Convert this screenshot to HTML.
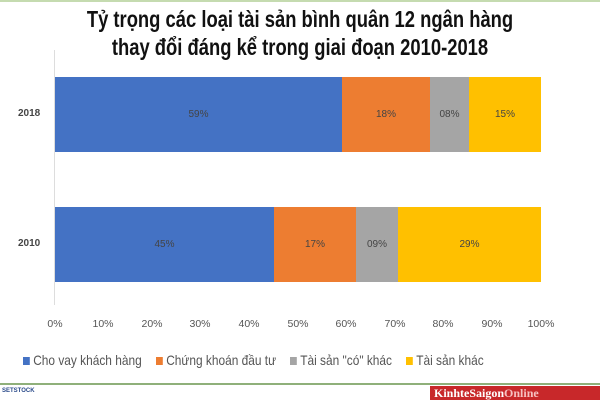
<!DOCTYPE html>
<html><head><meta charset="utf-8"><style>
body{margin:0;width:600px;height:400px;background:#fff;position:relative;overflow:hidden;font-family:"Liberation Sans",sans-serif}
.t{position:absolute;left:0;width:600px;text-align:center;font-weight:bold;font-size:23px;color:#111;transform:scaleX(0.8);transform-origin:300px 0;white-space:nowrap}
.b{position:absolute;height:75px;color:#444;font-size:10px;display:flex;align-items:center;justify-content:center}
.tk{position:absolute;top:318px;font-size:10.5px;color:#555;width:40px;text-align:center}
.y{position:absolute;left:18px;font-size:10px;font-weight:bold;color:#444}
.lg{position:absolute;top:352px;font-size:14px;color:#555;white-space:nowrap;transform:scaleX(0.85);transform-origin:0 0}
.lg i{display:inline-block;width:8px;height:8px;margin-right:4px}
</style></head><body>
<div style="position:absolute;left:0;top:0;width:600px;height:2px;background:#c5dbb0"></div>
<div class="t" style="top:6px">Tỷ trọng các loại tài sản bình quân 12 ngân hàng</div>
<div class="t" style="top:34px">thay đổi đáng kể trong giai đoạn 2010-2018</div>
<div style="position:absolute;left:54px;top:50px;width:1px;height:255px;background:#ddd"></div>
<div class="y" style="top:108px">2018</div>
<div class="y" style="top:238px">2010</div>
<div class="b" style="top:77px;left:55px;width:287px;background:#4472c4">59%</div>
<div class="b" style="top:77px;left:342px;width:88px;background:#ed7d31">18%</div>
<div class="b" style="top:77px;left:430px;width:39px;background:#a5a5a5">08%</div>
<div class="b" style="top:77px;left:469px;width:72px;background:#ffc000">15%</div>
<div class="b" style="top:207px;left:55px;width:219px;background:#4472c4">45%</div>
<div class="b" style="top:207px;left:274px;width:82px;background:#ed7d31">17%</div>
<div class="b" style="top:207px;left:356px;width:42px;background:#a5a5a5">09%</div>
<div class="b" style="top:207px;left:398px;width:143px;background:#ffc000">29%</div>
<div class="tk" style="left:35px">0%</div><div class="tk" style="left:83px">10%</div><div class="tk" style="left:132px">20%</div><div class="tk" style="left:180px">30%</div><div class="tk" style="left:229px">40%</div><div class="tk" style="left:278px">50%</div><div class="tk" style="left:326px">60%</div><div class="tk" style="left:375px">70%</div><div class="tk" style="left:423px">80%</div><div class="tk" style="left:472px">90%</div><div class="tk" style="left:521px">100%</div>
<div class="lg" style="left:23px"><i style="background:#4472c4"></i>Cho vay khách hàng</div>
<div class="lg" style="left:156px"><i style="background:#ed7d31"></i>Chứng khoán đầu tư</div>
<div class="lg" style="left:290px"><i style="background:#a5a5a5"></i>Tài sản "có" khác</div>
<div class="lg" style="left:406px"><i style="background:#ffc000"></i>Tài sản khác</div>
<div style="position:absolute;left:0;top:383px;width:600px;height:2px;background:#8fb07a"></div>
<div style="position:absolute;left:2px;top:388px;font-size:6px;color:#2a4a8a;font-weight:bold">SETSTOCK</div>
<div style="position:absolute;left:430px;top:386px;width:170px;height:14px;background:#c8282a;color:#fff;font-family:'Liberation Serif',serif;font-weight:bold;font-size:12px;line-height:14px;padding-left:4px">KinhteSaigon<span style="color:#f6c0c0">Online</span></div>
</body></html>
